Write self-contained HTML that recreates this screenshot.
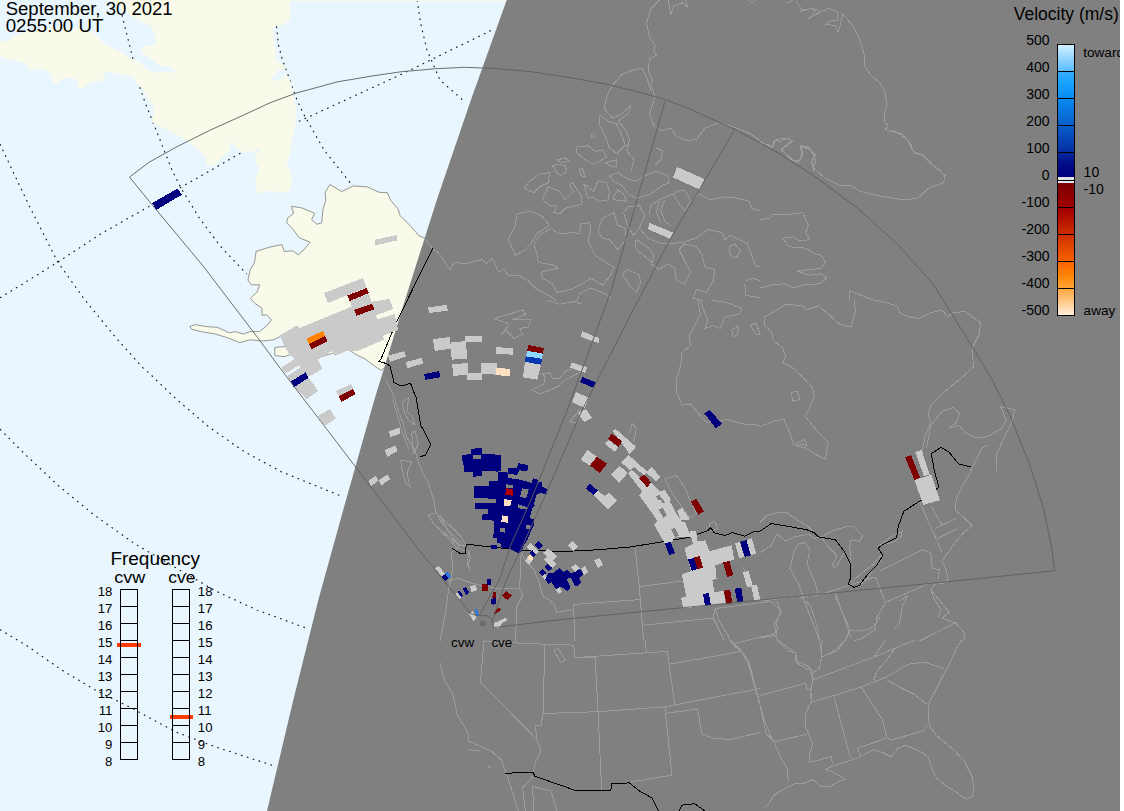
<!DOCTYPE html>
<html><head><meta charset="utf-8"><title>Velocity map</title>
<style>
html,body{margin:0;padding:0;background:#fff;}
body{width:1124px;height:811px;overflow:hidden;font-family:"Liberation Sans",sans-serif;}
svg{display:block;position:absolute;left:0;top:0;}
text{font-family:"Liberation Sans",sans-serif;fill:#000;}
</style></head><body>
<svg width="1124" height="811" viewBox="0 0 1124 811" shape-rendering="auto">
<defs><clipPath id="cm"><rect x="0" y="0" width="1120" height="811"/></clipPath>
<clipPath id="day"><polygon points="506.7,0.0 470.9,100.0 436.8,200.0 405.0,300.0 374.3,400.0 346.0,500.0 318.3,600.0 293.3,700.0 267.0,811.0 0.0,811.0 0.0,0.0"/></clipPath>
<clipPath id="night"><polygon points="506.7,0.0 470.9,100.0 436.8,200.0 405.0,300.0 374.3,400.0 346.0,500.0 318.3,600.0 293.3,700.0 267.0,811.0 1120.0,811.0 1120.0,0.0"/></clipPath>
</defs>
<rect x="0" y="0" width="1124" height="811" fill="#fff"/>
<g clip-path="url(#cm)">
<rect x="0" y="0" width="1120" height="811" fill="#e9f6fe"/>

<g clip-path="url(#day)">
<polyline points="122.0,15.0 127.0,35.0 132.0,55.0 139.0,85.0 145.4,103.4 158.9,137.2 172.4,171.0 180.9,187.9 199.5,218.3 219.7,245.4 246.8,274.1" fill="none" stroke="#111" stroke-width="1.1" stroke-dasharray="1.7 4.5"/>
<polyline points="276.5,26.4 278.5,45.0 282.5,60.0 287.0,72.0 291.5,85.0 297.0,100.0 303.0,113.0 308.9,123.4 324.5,150.7 351.6,184.5" fill="none" stroke="#111" stroke-width="1.1" stroke-dasharray="1.7 4.5"/>
<polyline points="417.0,0.0 421.0,25.0 427.0,50.0 440.0,80.0 465.0,102.0" fill="none" stroke="#111" stroke-width="1.1" stroke-dasharray="1.7 4.5"/>
<polyline points="0.0,297.8 30.4,279.2 57.5,262.3 101.4,233.5 152.1,204.8 180.9,187.2 209.6,171.0 241.7,152.4 297.5,122.0 338.0,103.4 400.0,75.0 492.0,30.0" fill="none" stroke="#111" stroke-width="1.1" stroke-dasharray="1.7 4.5"/>
<polyline points="0.0,144.0 13.5,172.7 30.4,208.2 57.5,261.6 84.5,299.5 115.0,336.6 142.0,367.0 148.7,372.7 175.8,398.7 209.6,427.5 243.4,451.1 280.6,471.4 317.8,486.6 343.1,496.8" fill="none" stroke="#111" stroke-width="1.1" stroke-dasharray="1.7 4.5"/>
<polyline points="0.0,429.2 27.0,456.2 57.5,484.9 94.7,515.4 135.2,544.1 175.8,567.8 216.4,591.4 256.9,610.0 307.6,628.6" fill="none" stroke="#111" stroke-width="1.1" stroke-dasharray="1.7 4.5"/>
<polyline points="0.0,629.6 27.0,645.8 60.9,669.5 94.7,689.7 135.2,710.0 175.8,732.0 216.4,747.2 273.8,765.8" fill="none" stroke="#111" stroke-width="1.1" stroke-dasharray="1.7 4.5"/>
<polygon points="0.0,42.0 9.0,40.0 17.0,35.0 28.0,31.0 43.0,28.0 64.0,28.0 85.0,29.0 93.0,32.0 104.2,44.1 118.5,51.2 131.3,58.4 139.8,62.6 146.9,69.8 154.1,72.6 169.7,71.2 175.4,73.3 171.9,66.9 159.8,65.5 152.6,59.8 145.5,55.5 140.5,49.8 146.9,45.6 155.5,45.6 155.5,35.6 151.2,26.3 138.4,19.9 128.4,14.2 118.5,7.1 109.9,0.0 289.6,0.0 290.5,9.6 289.7,19.2 283.3,25.6 275.3,25.6 272.9,29.6 273.7,40.0 276.0,52.9 276.3,60.0 278.1,61.7 284.1,65.2 283.3,70.4 278.1,69.5 276.3,74.7 271.2,77.3 274.6,80.7 281.5,79.0 285.8,73.8 290.2,80.7 293.6,94.5 296.2,111.8 295.3,125.6 291.9,139.4 290.2,153.2 286.7,164.4 290.2,170.5 291.9,177.4 291.0,184.3 288.4,192.0 278.1,192.9 271.2,190.3 258.2,193.8 255.6,187.7 255.6,175.6 259.1,172.2 259.1,167.0 255.6,161.8 254.8,155.8 260.0,149.7 259.1,148.0 253.9,151.5 243.6,152.3 234.9,148.0 234.1,142.8 230.6,142.8 229.7,149.7 221.1,158.4 214.2,165.3 206.4,165.3 205.6,157.5 200.4,151.5 190.1,142.8 179.7,135.9 167.6,129.9 157.3,124.7 151.2,122.1 154.7,111.8 152.1,104.9 145.2,94.5 140.0,88.5 155.2,109.6 149.5,99.6 142.3,88.3 136.7,84.0 133.8,76.9 121.0,74.7 110.3,71.9 103.2,73.3 105.3,77.6 102.5,81.1 92.5,81.9 88.3,84.0 81.1,89.0 77.6,85.4 78.3,81.1 71.2,77.6 62.6,79.0 56.9,83.3 52.0,81.9 52.7,77.6 48.4,71.2 41.3,68.3 29.2,70.5 27.0,64.1 18.5,61.2 8.5,59.1 0.0,56.2" fill="#fafaea"/>
<polygon points="424.8,238.4 418.9,235.6 410.7,226.2 400.2,215.7 397.8,208.7 390.8,200.5 387.3,192.7 379.1,192.3 367.4,186.9 353.3,185.9 341.6,191.6 329.9,184.5 325.2,192.3 325.7,200.5 322.9,209.8 321.7,222.7 317.0,224.3 311.6,219.7 314.7,213.3 301.8,207.9 291.3,206.3 293.6,213.3 287.8,218.0 286.6,222.7 292.4,228.6 299.5,237.9 310.0,242.1 304.2,249.6 298.3,254.8 292.4,250.8 284.2,251.5 281.9,244.5 269.0,247.3 256.1,251.5 254.5,262.5 250.3,269.6 247.9,280.1 251.4,284.8 259.6,284.8 257.3,291.8 250.3,298.4 255.0,303.5 262.0,308.2 262.0,315.2 266.7,314.8 271.4,319.9 266.7,325.8 259.6,331.6 250.3,331.6 243.2,334.0 235.0,331.6 229.2,332.8 217.5,327.4 205.8,326.5 195.2,324.6 189.8,326.5 191.7,329.3 203.4,332.1 215.1,334.0 226.8,337.5 239.7,342.6 250.3,339.8 262.0,341.0 273.7,339.8 280.7,336.3 288.7,346.3 274.8,347.4 274.8,355.5 284.1,356.7 291.0,354.4 309.5,360.1 332.7,353.2 348.9,349.7 355.8,354.4 365.1,359.0 374.3,365.9 381.2,370.6 384.7,367.1 420.0,330.0 440.0,250.0" fill="#fafaea" stroke="#8a8a8a" stroke-width="0.9"/>
<rect x="110" y="0" width="400" height="1" fill="#fafaea"/>
</g>
<polygon points="506.7,0.0 470.9,100.0 436.8,200.0 405.0,300.0 374.3,400.0 346.0,500.0 318.3,600.0 293.3,700.0 267.0,811.0 1120.0,811.0 1120.0,0.0" fill="#808080"/>
<g clip-path="url(#night)" fill="none" stroke="#9c9c9c" stroke-width="1" stroke-linejoin="round" shape-rendering="crispEdges">
<polyline points="440.0,662.8 444.3,679.9 452.8,694.1 457.1,714.0 468.5,734.0 468.5,741.1 491.2,751.0 501.2,759.6 506.0,773.2 511.2,788.0 518.3,811.1"/>
<polyline points="533.4,776.1 522.6,788.0 525.4,811.1"/>
<polyline points="534.0,811.1 532.5,786.6 551.0,790.9 556.7,811.1"/>
<polyline points="484.1,640.0 480.4,682.1 536.8,739.6 541.1,751.0 535.4,762.4 533.4,772.4"/>
<polyline points="544.8,644.3 543.1,712.6 541.1,725.4 535.4,725.4 536.8,739.6"/>
<polyline points="484.1,641.4 544.8,644.3 573.8,645.1 574.4,657.7 595.2,657.7 598.0,711.7 601.7,790.3"/>
<polyline points="543.1,713.5 598.0,711.7 664.9,706.9 753.2,689.8 760.0,688.4"/>
<polyline points="574.4,657.7 667.2,651.4 674.9,704.9"/>
<polyline points="645.0,640.0 646.4,652.8"/>
<polyline points="669.2,664.2 741.8,651.4"/>
<polyline points="664.9,706.9 672.0,775.2 629.3,782.3"/>
<polyline points="664.9,713.5 697.7,708.9 701.9,734.0 713.3,738.2 730.4,739.6 760.0,732.5"/>
<polyline points="730.4,640.0 741.8,651.4 748.9,661.4 760.0,704.1"/>
<polyline points="553.9,650.0 558.1,648.5 565.3,659.9 561.0,662.8 553.9,650.0"/>
<polyline points="468.5,749.6 479.9,751.0"/>
<polyline points="487.0,765.3 491.2,768.1"/>
<polyline points="962.1,640.0 956.4,648.5 949.3,664.2 942.2,677.0 933.7,694.1 929.4,701.2 928.0,714.0 929.4,725.4 936.5,735.4 953.6,749.6 965.0,762.4 972.1,776.7 974.1,788.0 972.1,796.6 966.4,799.4 956.4,792.3 945.1,785.2 936.5,778.1 932.2,769.5 928.0,756.7 919.4,751.0 905.2,745.3 898.1,748.2 891.0,756.7 882.4,752.5 873.9,749.6 865.3,753.9 856.8,758.1 848.3,761.0 839.7,763.8 831.2,766.7 825.5,769.5 834.0,772.4 845.4,779.5 839.7,780.9 829.8,786.6 821.2,786.6 812.7,779.5 802.7,783.8 794.2,783.8 782.8,789.5 774.2,795.2 768.5,803.7 762.8,809.4"/>
<polyline points="777.1,640.0 788.5,651.4 795.6,652.8 797.0,661.4 807.0,665.6 812.7,671.3 812.7,679.9 810.7,691.2 811.2,701.2 805.6,714.0 805.0,725.4 809.8,736.8 812.7,743.9 809.8,753.9 809.8,762.4 831.2,756.7 832.6,763.8"/>
<polyline points="812.7,679.9 873.9,657.1 915.2,640.0"/>
<polyline points="811.2,702.1 834.0,695.5 861.1,687.0 886.7,677.0 908.0,664.2 925.1,662.2 943.6,668.5"/>
<polyline points="886.7,679.9 902.3,688.4 913.7,694.1 926.5,704.1"/>
<polyline points="834.0,696.9 850.5,758.1"/>
<polyline points="861.1,687.0 882.4,719.7 886.7,736.8 891.0,740.2 924.6,730.5 926.5,725.4"/>
<polyline points="886.7,738.2 857.4,748.2 861.1,756.2"/>
<polyline points="760.0,705.5 766.3,734.0 774.2,741.9 807.0,734.0"/>
<polyline points="774.2,741.9 779.9,756.7 787.0,768.1 788.5,782.3"/>
<polyline points="760.0,695.5 805.6,683.3 807.0,689.8 811.2,689.0"/>
<polyline points="822.1,640.0 821.2,657.1 828.3,654.2 836.9,651.4 845.4,640.0"/>
<polyline points="873.9,657.1 885.3,640.0"/>
<polyline points="895.2,648.5 885.3,661.4 876.7,671.3 873.9,679.9"/>
<polyline points="760.0,522.7 767.1,515.6 777.1,512.7 787.0,512.7 797.0,519.8 807.0,525.5 814.1,532.6"/>
<polyline points="760.0,552.6 771.4,545.4 777.1,534.1 785.6,541.2 794.2,536.9 808.4,534.1 814.1,538.3 821.2,536.9 831.2,531.2 845.4,526.9 854.0,526.9 862.5,535.5 859.6,541.2 851.1,539.8 849.7,548.3 851.1,561.1"/>
<polyline points="802.7,595.3 798.4,583.9 789.9,568.2 794.2,551.1 798.4,544.0 805.6,542.6 809.8,549.7 807.0,564.0 815.5,583.9 818.4,595.3"/>
<polyline points="821.2,536.9 828.3,546.9 836.9,555.4 832.6,565.4 835.4,568.2 842.6,555.4 845.4,552.6"/>
<polyline points="851.1,582.5 862.5,572.5 873.9,564.0 879.6,556.8 883.0,555.4"/>
<polyline points="858.2,586.7 866.8,579.6 873.9,568.2 881.0,561.1"/>
<polyline points="878.1,546.9 891.0,536.9 902.3,531.2 900.9,536.9 892.4,542.6 882.4,544.6"/>
<polyline points="972.1,470.0 965.0,481.4 956.4,498.5 955.0,509.9 965.0,518.4 972.1,525.5 965.0,531.2 956.4,541.2 947.9,552.6 942.2,561.1 946.5,571.1 947.9,579.6 942.2,583.9 936.5,582.5 930.8,589.6 942.2,603.8 949.3,612.3 942.2,618.0 956.4,623.7 965.0,633.7 963.6,641.1"/>
<polyline points="879.6,571.1 922.3,549.7 930.8,552.6 932.2,568.2 939.4,569.6 937.9,579.6"/>
<polyline points="875.3,576.8 885.3,602.4 930.8,582.5"/>
<polyline points="885.3,602.4 876.7,618.0 875.3,629.4 862.5,638.0 854.0,641.1"/>
<polyline points="919.4,501.3 930.8,526.9 942.2,552.6"/>
<polyline points="935.1,528.4 956.4,518.4"/>
<polyline points="937.9,538.3 957.9,528.4"/>
<polyline points="930.8,505.6 942.2,525.5"/>
<polyline points="760.0,601.0 797.0,596.7 818.4,595.3 875.3,576.8"/>
<polyline points="802.7,596.7 819.8,641.1"/>
<polyline points="835.4,592.4 851.1,638.0"/>
<polyline points="777.1,601.0 781.4,612.3 774.2,623.7 777.1,635.1 760.0,638.0"/>
<polyline points="899.5,601.0 908.0,595.3 902.3,606.7 899.5,623.7 893.8,629.4"/>
<polyline points="919.4,641.1 956.4,622.3"/>
<polyline points="930.8,589.6 933.7,598.1 940.8,609.5 937.9,618.0"/>
<polyline points="440.0,515.6 445.7,526.9 452.8,538.3 459.9,545.4 452.8,551.1 451.4,552.6 452.8,569.6 448.5,589.6 445.7,612.3 440.0,641.1"/>
<polyline points="440.0,531.2 448.5,538.3 457.1,548.3 467.0,551.1"/>
<polyline points="448.5,581.0 457.1,578.2 474.2,583.9 494.1,588.1 519.7,588.1 522.6,595.3 516.9,606.7 515.4,641.1"/>
<polyline points="519.7,588.1 521.1,552.6 525.4,561.1 534.0,569.6 539.6,583.9 542.5,595.3 553.9,603.8 556.7,612.3 573.8,609.5 573.8,604.4 640.7,599.5"/>
<polyline points="573.8,604.4 574.4,641.1"/>
<polyline points="635.0,548.3 639.3,586.7 643.6,641.1"/>
<polyline points="639.3,586.7 682.0,581.0"/>
<polyline points="643.6,625.2 713.3,618.0 719.0,629.4 724.7,641.1"/>
<polyline points="713.3,618.0 714.7,609.5"/>
<polyline points="743.2,566.8 748.9,583.9 756.0,595.3 760.0,599.5"/>
<polyline points="467.9,549.7 469.0,555.4 467.0,561.1 468.5,568.2"/>
<polyline points="469.6,551.1 470.2,558.3 468.5,564.0 469.6,569.6"/>
<polyline points="709.0,524.1 714.7,521.2 717.6,528.4 711.9,531.2 709.0,524.1"/>
<polyline points="664.9,478.5 676.3,475.7 684.8,487.1 690.5,501.3 696.2,512.7 690.5,518.4 682.0,507.0 673.5,495.6 664.9,478.5"/>
<polyline points="854.0,300.0 855.4,311.4 851.1,327.0 839.7,324.2 828.3,314.2 818.4,305.7 805.6,310.0 802.7,305.7 785.6,304.3 777.1,310.0 764.3,317.1 764.3,325.6 771.4,331.3 772.8,339.9 782.8,348.4 785.6,356.9 782.8,362.6 791.3,366.9 802.7,376.9 812.7,388.3 814.1,396.8 805.6,416.7 816.9,431.0 828.3,442.3 825.5,459.4 816.9,455.2 805.6,448.0 794.2,445.2 789.9,433.8 784.2,419.6 774.2,421.0 760.0,426.7"/>
<polyline points="791.3,392.5 797.0,391.1 799.9,399.6 792.7,401.1 791.3,392.5"/>
<polyline points="795.6,443.8 804.1,439.5 807.0,445.2 795.6,443.8"/>
<polyline points="875.3,300.0 896.7,305.7 900.9,314.2 910.9,317.1 919.4,318.5 930.8,312.8 942.2,310.0 947.9,317.1 953.6,312.8 965.0,311.4 980.6,322.8 979.2,334.2 972.1,348.4 973.5,366.9 959.3,379.7 945.1,391.1 930.8,405.3 928.0,413.9 930.8,422.4 925.1,436.7 922.3,450.9"/>
<polyline points="926.5,448.0 930.8,425.3 942.2,411.0 953.6,407.6 959.3,413.9 956.4,422.4 949.3,428.1 959.3,425.3 965.0,432.4 976.4,438.1 987.8,436.7 1002.0,428.1 1006.3,419.6 1000.6,406.8 1014.8,409.6 1012.0,422.4 1002.0,442.3 996.3,455.2 996.3,471.1"/>
<polyline points="987.8,445.2 982.1,448.0 973.5,465.1 970.7,471.1"/>
<polyline points="494.1,318.5 522.6,310.0 525.4,314.2 512.6,319.9 531.1,319.9 528.3,327.0 519.7,328.5 522.6,334.2 514.0,338.4 505.5,329.9 501.2,334.2 509.8,324.2 494.1,318.5"/>
<polyline points="531.1,389.7 543.9,384.0 545.3,376.9 542.5,374.0 549.6,372.6 552.5,378.3 559.6,378.3 565.3,371.2 573.8,368.3 582.3,371.2 573.8,375.4 565.3,379.7 559.6,385.4 551.0,389.7 539.6,394.0 531.1,389.7"/>
<polyline points="569.5,422.4 579.5,409.6 582.3,413.9 576.7,422.4 569.5,422.4"/>
<polyline points="697.7,300.0 700.5,314.2 693.4,328.5 689.1,335.6 690.5,345.6 682.0,352.7 680.6,365.5 676.3,379.7 676.3,391.1 682.0,405.3 690.5,403.9 703.3,419.6 707.6,422.4 727.5,419.6 741.8,423.8 760.0,425.3"/>
<polyline points="546.8,300.0 559.6,304.3 573.8,301.4 582.3,304.3"/>
<polyline points="700.5,301.4 707.6,319.9 704.8,328.5 713.3,325.6 720.4,328.5 724.7,317.1 738.9,314.2 741.8,308.5 727.5,302.8 710.5,300.0"/>
<polyline points="731.8,329.9 738.9,325.6 737.5,334.2 733.2,337.0 731.8,329.9"/>
<polyline points="750.3,325.6 756.0,322.8 760.0,334.2 756.0,334.2 750.3,325.6"/>
<polyline points="629.3,433.8 632.2,423.8 636.4,428.1 633.6,442.3"/>
<polyline points="516.9,214.0 529.7,211.1 541.1,215.4 549.6,225.4 536.8,233.9 531.1,243.9 525.4,249.6 515.4,255.3 508.3,239.6 515.4,225.4 516.9,214.0"/>
<polyline points="534.0,243.9 539.6,235.3 551.0,228.2 558.1,233.9 573.8,232.5 579.5,233.9 580.9,224.0 589.5,222.5 590.9,229.6 588.0,241.0 595.2,255.3 608.0,263.8 613.7,266.7 610.8,275.2 602.3,285.2 590.9,278.0 582.3,283.7 571.0,289.4 556.7,292.3 552.5,283.7 542.5,278.0 541.1,272.3 558.1,268.1 553.9,265.2 538.2,262.4 536.8,253.8 534.0,243.9"/>
<polyline points="440.0,255.3 450.0,269.5 454.2,262.4 464.2,263.8 482.7,259.5 485.6,263.8 492.7,258.1 498.4,272.3 504.1,269.5 508.3,275.2 518.3,275.2 528.3,280.9 536.8,289.4 551.0,296.5 556.7,301.1"/>
<polyline points="576.7,301.1 579.5,293.7 590.9,288.0 605.1,293.7 610.8,298.0"/>
<polyline points="524.0,188.4 529.7,181.2 539.6,174.1 549.6,172.7 548.2,182.7 539.6,186.9 534.0,192.6 524.0,188.4"/>
<polyline points="542.5,199.8 548.2,186.9 559.6,191.2 565.3,199.8 573.8,191.2 569.5,185.5 572.4,182.7 580.9,195.5 582.3,204.0 565.3,208.3 559.6,214.0 553.9,212.6 556.7,205.4 549.6,205.4 542.5,199.8"/>
<polyline points="552.5,165.6 558.1,164.2 565.3,165.6 566.7,171.3 561.0,175.6 556.7,172.7 552.5,165.6"/>
<polyline points="556.7,159.9 565.3,157.9 569.5,161.3 561.0,162.7 556.7,159.9"/>
<polyline points="576.7,147.1 588.0,145.7 595.2,151.4 602.3,149.9 606.5,157.0 599.4,161.3 593.7,164.2 585.2,159.9 576.7,152.8 576.7,147.1"/>
<polyline points="579.5,168.4 582.3,168.4 585.2,177.0 580.9,175.6 579.5,168.4"/>
<polyline points="605.1,162.7 616.5,159.9 616.5,167.0 609.4,165.6 605.1,162.7"/>
<polyline points="583.8,184.1 593.7,191.2 598.0,181.2 606.5,182.7 609.4,191.2 608.0,199.8 599.4,201.2 592.3,196.9 588.0,198.3 583.8,184.1"/>
<polyline points="613.7,196.9 617.9,189.8 623.6,194.1 626.5,201.2 613.7,199.8 613.7,196.9"/>
<polyline points="609.4,175.6 617.9,172.7 626.5,178.4 636.4,181.2 645.0,175.6 656.4,171.3 667.8,175.6 669.2,182.7 662.1,185.5 650.7,194.1 636.4,198.3 627.9,194.1 622.2,185.5 613.7,181.2 609.4,175.6"/>
<polyline points="598.0,231.1 602.3,218.3 613.7,212.6 617.9,225.4 625.1,228.2 626.5,239.6 617.9,249.6 609.4,239.6 602.3,238.2 598.0,231.1"/>
<polyline points="623.6,212.6 627.9,206.9 639.3,205.4 645.0,215.4 639.3,228.2 633.6,235.3 627.9,226.8 623.6,212.6"/>
<polyline points="635.0,242.5 636.4,239.6 649.3,248.1 653.5,255.3 652.1,262.4 643.6,255.3 636.4,249.6 635.0,242.5"/>
<polyline points="622.2,273.8 627.9,269.5 639.3,275.2 640.7,282.3 636.4,292.3 629.3,285.2 622.2,273.8"/>
<polyline points="649.3,215.4 650.7,205.4 662.1,198.3 673.5,194.1 676.3,199.8 684.8,211.1 690.5,201.2 684.8,189.8 677.7,191.2 673.5,194.1"/>
<polyline points="664.9,199.8 660.6,209.7 664.9,221.1 670.6,225.4"/>
<polyline points="659.2,201.2 656.4,212.6 660.6,222.5"/>
<polyline points="692.0,201.2 699.1,194.1 710.5,199.8 724.7,196.9 738.9,198.3 748.9,201.2 751.7,208.3 760.0,211.1"/>
<polyline points="650.7,263.8 659.2,269.5 667.8,263.8 674.9,268.1 676.3,280.9 684.8,283.7 690.5,272.3 684.8,261.0 679.1,249.6 684.8,243.9 696.2,246.7 701.9,253.8 704.8,266.7 714.7,269.5 713.3,280.9 706.2,292.3 696.2,289.4 693.4,298.0 703.3,301.1"/>
<polyline points="639.3,228.2 647.8,238.2 662.1,243.9 682.0,242.5 696.2,238.2 707.6,229.6 721.9,232.5 724.7,239.6 730.4,235.3 747.5,243.9 751.7,255.3 756.0,266.7 760.0,266.7"/>
<polyline points="729.0,246.7 734.7,243.9 740.4,251.0 736.1,258.1 730.4,255.3 729.0,246.7"/>
<polyline points="746.0,280.9 753.2,278.0 760.0,280.9"/>
<polyline points="744.6,283.7 746.0,295.1 760.0,298.0"/>
<polyline points="592.3,132.8 595.2,137.1 590.9,137.1 592.3,132.8"/>
<polyline points="891.0,130.0 902.3,134.3 910.9,144.2 913.7,152.8 923.7,155.6 933.7,165.6 945.1,175.6 943.6,182.7 928.0,188.4 918.0,198.3 902.3,199.8 876.7,195.5 859.6,191.2 851.1,185.5 839.7,185.5 825.5,178.4 814.1,168.4 811.2,161.3 815.5,154.2 808.4,147.1 801.3,145.7 802.7,154.2 799.9,159.9 794.2,161.3 781.4,149.9 788.5,142.8 792.7,141.4 787.0,138.5 779.9,141.4 774.2,140.0 772.8,145.7 760.0,142.8"/>
<polyline points="760.0,219.7 770.0,218.3 772.8,214.0 791.3,214.0 802.7,212.6 808.4,225.4 805.6,232.5 809.8,239.6 799.9,241.0 792.7,236.8 782.8,238.2 788.5,246.7 805.6,248.1 814.1,253.8 821.2,255.3 825.5,262.4 821.2,268.1 811.2,269.5 797.0,270.9 808.4,275.2 821.2,273.8 826.9,278.0 819.8,283.7 802.7,285.2 792.7,288.0 784.2,283.7 771.4,285.2 760.0,288.0"/>
<polyline points="849.7,301.1 849.7,290.9 876.7,301.1"/>
<polyline points="659.4,0.0 650.9,8.5 646.6,22.8 649.5,37.0 655.2,45.6 653.7,51.2 656.6,55.5 649.5,58.4 648.0,71.2 652.3,79.7 650.9,85.4 655.2,96.8 649.5,113.9 653.7,125.3 662.3,131.0 670.8,128.1 676.5,136.7 687.9,140.9 696.4,139.5 705.0,128.1 719.2,122.4 736.3,128.1 750.5,133.8 761.9,142.3 771.9,148.0 776.2,139.5 787.5,138.1 793.2,140.9 781.9,149.5 790.4,159.4 798.9,162.3 801.8,153.7 800.4,146.6 810.3,149.5 816.0,159.4 813.2,168.0"/>
<polyline points="650.9,91.1 646.6,76.9 642.3,68.3 633.8,69.8 622.4,74.0 612.5,85.4 606.8,96.8 603.9,108.2 612.5,118.1 622.4,113.9 631.0,105.3 628.1,113.9 618.1,121.0 625.3,129.5 629.5,139.5 626.7,150.9 633.8,159.4 631.0,171.1"/>
<polyline points="599.6,115.3 608.2,121.0 616.7,123.8 622.4,136.7 625.3,145.2 616.7,153.7 609.6,148.0 605.3,136.7 599.6,125.3 599.6,115.3"/>
<polyline points="668.0,0.0 670.8,14.2 673.7,5.7 682.2,2.8 687.9,7.1 685.1,0.0"/>
<polyline points="747.7,0.0 752.0,2.8 756.2,0.0"/>
<polyline points="787.5,2.8 793.2,0.0"/>
<polyline points="796.1,1.4 801.8,10.0 813.2,8.5 820.0,11.4 808.9,18.5"/>
<polyline points="655.2,165.1 660.9,159.4 662.3,150.9 656.6,148.0"/>
<polyline points="800.0,11.4 811.4,8.5 815.7,11.4 808.5,18.5 821.4,11.4 828.5,8.5 837.0,11.4 838.4,19.9 828.5,21.4 825.6,24.2 835.6,25.6 838.4,32.7 842.7,14.2 852.7,25.6 859.8,39.9 864.1,54.1 864.1,65.5 871.2,75.4 879.7,82.6 885.4,94.0 886.8,105.3 884.0,113.9 884.0,122.4 888.3,125.3 885.4,129.5 899.6,133.8 908.2,140.9 912.5,150.9 922.4,155.2 931.0,163.7 940.9,171.1"/>
<polyline points="800.0,145.2 808.5,148.0 815.7,155.2 811.4,162.3 814.2,171.1"/>
<polyline points="386.1,380.0 392.5,392.8 398.9,412.1 403.7,424.9 406.9,437.7 415.0,450.5 418.2,461.8 423.0,473.0 429.4,485.8 434.2,501.8 435.8,511.5 440.6,521.1 450.2,532.3 458.2,540.3 464.7,546.7"/>
<polyline points="402.1,402.4 408.6,397.6 406.9,412.1 411.8,415.3 415.0,424.9 410.2,421.7 405.3,415.3 402.1,402.4"/>
<polyline points="411.8,432.9 415.0,431.3 418.2,444.1 413.4,453.7 411.8,432.9"/>
<polyline points="400.5,460.2 411.8,461.8 406.9,473.0 410.2,487.4 405.3,482.6 402.1,469.8 400.5,460.2"/>
<polyline points="427.8,514.7 435.8,513.1 448.6,524.3 461.5,537.1 466.3,546.7 458.2,545.1 445.4,533.9 434.2,524.3 427.8,514.7"/>
<polyline points="392.5,399.2 397.3,415.3 402.1,431.3 408.6,448.9"/>
<polyline points="424.0,237.4 429.4,244.5 432.9,248.9 438.3,252.5 440.0,255.3"/>
<polyline points="715.2,608.5 719.4,621.3 728.0,635.5 732.2,644.1 742.2,652.6 747.9,662.6 756.4,692.5 765.0,722.3 773.5,742.3"/>
<polyline points="732.2,644.1 773.5,634.1"/>
<polyline points="715.2,608.5 770.7,601.4 780.6,609.9 776.4,622.7 777.8,629.8 773.5,634.1 779.2,641.2 794.9,652.6 796.3,662.6 810.5,671.1 813.4,679.6 810.5,689.6 812.0,699.6"/>
<polyline points="799.1,595.7 810.5,605.6 817.7,628.4 821.9,656.9 819.1,668.3 813.4,672.5"/>
<polyline points="821.9,656.9 833.3,651.2 844.7,641.2 850.4,629.8 861.8,631.2 873.2,627.0 880.0,617.0"/>
<polyline points="834.7,595.7 850.4,629.8"/>
</g>
<g fill="none" stroke="#000" stroke-width="1" stroke-linejoin="round" shape-rendering="crispEdges">
<polyline points="452.0,548.3 459.9,553.3 465.3,553.3 466.3,544.4 472.7,544.9 489.5,546.9 509.2,548.8 523.0,550.3 560.0,551.3 569.3,551.2 598.9,549.7 630.0,547.0 640.0,545.4 662.7,541.8 689.6,537.2 708.1,530.5 710.9,527.7 713.8,532.6 725.1,535.5 732.2,532.6 745.0,536.2 753.5,531.9 760.0,531.2 771.4,523.5 788.5,526.4 807.0,529.8 814.1,532.6 818.4,536.9 835.4,539.8 844.0,551.1 850.5,564.0 850.5,578.2 848.3,583.9 854.0,587.3 859.6,585.3 866.8,575.3 876.7,565.4 883.0,555.4 878.1,548.3 882.4,544.6 896.7,537.8 898.1,526.9 903.8,511.3 919.4,501.3 930.8,494.2 938.8,487.1 936.5,478.5 934.2,470.0 931.3,453.7 941.0,447.3 949.0,452.1 958.6,464.0 971.4,467.2"/>
<polyline points="433.1,248.1 412.2,290.0 397.4,320.5 391.8,333.0 381.2,358.5 379.0,361.4 386.5,363.6 390.2,366.1 393.9,382.3 401.4,386.0 410.5,383.2 413.0,390.0 416.0,397.2 420.6,424.9 425.4,433.6 430.9,444.4 425.4,455.3 420.0,456.6"/>
<polyline points="505.5,773.2 533.4,772.4 534.5,776.1 576.7,790.9 610.8,790.3 611.7,783.8 629.3,782.9 639.3,790.9 652.1,798.0 658.6,811.0"/>
<polyline points="679.1,811.0 682.0,805.1 694.8,803.7 704.8,811.0"/>
</g>
<circle cx="482.9" cy="623.6" r="3" fill="#6b6b6b"/>
<polygon points="152.1,203.1 177.5,188.6 181.9,194.7 156.2,209.9" fill="#00007f" shape-rendering="crispEdges"/>
<polygon points="374.4,239.8 396.7,235.1 397.4,240.3 375.6,245.4" fill="#cacaca" shape-rendering="crispEdges"/>
<polygon points="324.2,293.0 362.8,278.1 366.5,287.4 327.9,303.0" fill="#cacaca" shape-rendering="crispEdges"/>
<polygon points="349.7,301.1 369.0,293.7 371.5,301.8 352.8,309.2" fill="#cacaca" shape-rendering="crispEdges"/>
<polygon points="280.0,335.4 296.8,325.4 299.9,327.9 352.8,306.1 371.5,301.8 389.6,299.0 393.3,309.2 375.9,315.1 377.4,319.2 394.5,314.2 398.3,329.8 382.7,336.0 384.0,339.7 355.9,351.6 349.7,349.7 334.8,355.9 331.7,351.0 318.0,359.7 322.3,368.6 308.0,377.3 305.5,372.3 290.6,381.7 287.4,376.1 300.5,367.4 299.3,365.1 285.6,373.6 281.2,368.0 294.3,359.3 286.2,349.9" fill="#cacaca" shape-rendering="crispEdges"/>
<polygon points="347.2,295.5 366.5,288.1 368.8,293.0 349.7,301.1" fill="#7f0000" shape-rendering="crispEdges"/>
<polygon points="354.1,309.9 372.1,303.6 374.4,309.2 356.6,315.8" fill="#7f0000" shape-rendering="crispEdges"/>
<polygon points="306.1,338.7 322.9,331.0 325.1,336.0 308.9,343.9" fill="#ff8200" shape-rendering="crispEdges"/>
<polygon points="308.9,343.9 325.1,336.0 327.3,341.2 311.7,349.3" fill="#7f0000" shape-rendering="crispEdges"/>
<polygon points="290.6,381.7 305.5,372.3 308.4,378.0 293.7,387.3" fill="#00007f" shape-rendering="crispEdges"/>
<polygon points="293.7,387.3 308.4,378.0 309.9,379.2 318.0,391.0 306.7,399.1 295.5,388.5" fill="#cacaca" shape-rendering="crispEdges"/>
<polygon points="336.0,391.0 351.0,384.2 353.2,388.8 338.5,396.0" fill="#cacaca" shape-rendering="crispEdges"/>
<polygon points="338.5,396.0 353.2,388.8 355.3,394.1 341.6,402.0" fill="#7f0000" shape-rendering="crispEdges"/>
<polygon points="318.0,415.9 329.8,409.1 336.0,418.4 324.8,425.9" fill="#cacaca" shape-rendering="crispEdges"/>
<polygon points="388.3,355.5 403.9,351.2 405.8,356.8 390.2,361.1" fill="#cacaca" shape-rendering="crispEdges"/>
<polygon points="428.0,307.4 446.6,304.9 447.9,310.6 429.2,313.0" fill="#cacaca" shape-rendering="crispEdges"/>
<polygon points="432.9,339.2 449.7,337.1 451.0,348.5 434.8,351.0" fill="#cacaca" shape-rendering="crispEdges"/>
<polygon points="451.0,342.3 465.9,341.1 467.2,358.5 451.6,359.7" fill="#cacaca" shape-rendering="crispEdges"/>
<polygon points="464.7,336.3 482.1,335.8 482.4,342.1 465.3,342.3" fill="#cacaca" shape-rendering="crispEdges"/>
<polygon points="495.8,347.3 512.6,347.9 512.6,354.8 496.5,353.5" fill="#cacaca" shape-rendering="crispEdges"/>
<polygon points="452.0,364.1 467.8,363.2 468.4,374.7 453.5,375.9" fill="#cacaca" shape-rendering="crispEdges"/>
<polygon points="467.2,373.4 482.1,372.8 482.4,379.7 467.4,379.9" fill="#cacaca" shape-rendering="crispEdges"/>
<polygon points="481.1,363.5 496.5,363.2 496.5,374.7 481.5,373.7" fill="#cacaca" shape-rendering="crispEdges"/>
<polygon points="388.1,356.0 404.3,351.0 406.2,356.6 390.0,362.0" fill="#cacaca" shape-rendering="crispEdges"/>
<polygon points="405.9,362.2 421.7,357.9 423.3,363.5 407.4,368.2" fill="#cacaca" shape-rendering="crispEdges"/>
<polygon points="495.8,368.2 510.2,368.7 510.2,375.9 496.1,375.3" fill="#ffe0c2" shape-rendering="crispEdges"/>
<polygon points="424.2,374.1 439.2,371.0 440.4,377.2 425.1,379.9" fill="#00007f" shape-rendering="crispEdges"/>
<polygon points="528.4,345.1 543.8,348.0 543.0,353.6 527.2,350.9" fill="#7f0000" shape-rendering="crispEdges"/>
<polygon points="527.2,350.9 543.0,353.6 542.1,358.8 525.9,356.3" fill="#8cd8ff" shape-rendering="crispEdges"/>
<polygon points="525.9,356.3 542.1,358.8 541.1,364.8 524.9,361.7" fill="#0838b0" shape-rendering="crispEdges"/>
<polygon points="524.9,361.7 541.1,364.8 537.4,379.7 523.0,377.3" fill="#cacaca" shape-rendering="crispEdges"/>
<polygon points="582.2,331.2 594.0,336.2 592.2,341.1 581.0,336.8" fill="#cacaca" shape-rendering="crispEdges"/>
<polygon points="594.7,336.4 599.6,338.0 598.4,343.0 593.2,341.1" fill="#cacaca" shape-rendering="crispEdges"/>
<polygon points="571.6,362.3 582.8,366.0 581.0,371.7 570.0,367.5" fill="#cacaca" shape-rendering="crispEdges"/>
<polygon points="583.7,366.0 586.9,367.3 585.3,372.9 582.2,371.7" fill="#cacaca" shape-rendering="crispEdges"/>
<polygon points="582.2,377.0 595.9,382.2 593.4,387.8 580.0,382.2" fill="#00007f" shape-rendering="crispEdges"/>
<polygon points="576.0,392.2 589.1,397.8 584.7,407.8 572.0,402.2" fill="#cacaca" shape-rendering="crispEdges"/>
<polygon points="677.1,167.0 704.7,179.1 699.5,189.4 673.0,177.4" fill="#cacaca" shape-rendering="crispEdges"/>
<polygon points="649.5,222.9 673.0,232.6 670.2,238.8 647.8,229.1" fill="#cacaca" shape-rendering="crispEdges"/>
<polygon points="704.5,413.5 709.5,410.0 722.0,423.5 716.0,428.5" fill="#00007f" shape-rendering="crispEdges"/>
<polygon points="578.0,413.0 586.0,409.0 592.0,418.0 584.0,422.0" fill="#cacaca" shape-rendering="crispEdges"/>
<polygon points="388.5,431.4 400.0,427.7 400.0,433.9 390.4,437.0" fill="#cacaca" shape-rendering="crispEdges"/>
<polygon points="384.8,449.9 395.3,445.6 397.8,451.2 387.3,456.7" fill="#cacaca" shape-rendering="crispEdges"/>
<polygon points="368.2,480.8 375.6,475.8 378.6,480.1 371.2,486.3" fill="#cacaca" shape-rendering="crispEdges"/>
<polygon points="378.6,480.1 387.3,474.6 390.4,478.9 381.1,485.7" fill="#cacaca" shape-rendering="crispEdges"/>
<polygon points="471.2,448.9 482.1,447.9 482.1,453.8 500.8,454.8 500.8,470.6 497.4,471.6 482.1,470.6 482.1,475.5 473.2,477.0 473.2,471.6 463.8,472.1 463.3,460.7 461.8,460.7 461.8,454.8 471.2,454.3" fill="#00007f" shape-rendering="crispEdges"/>
<polygon points="473.2,455.3 481.1,454.8 481.1,458.7 473.2,458.9" fill="#808080" shape-rendering="crispEdges"/>
<polygon points="507.7,467.6 517.1,468.1 518.1,463.2 527.9,465.2 527.4,471.6 519.1,470.1 517.1,475.0 508.2,473.5" fill="#00007f" shape-rendering="crispEdges"/>
<polygon points="497.8,471.6 507.7,472.6 508.2,478.0 519.1,479.5 531.9,482.9 532.9,478.0 538.3,480.0 537.3,483.4 541.8,481.4 541.8,486.4 547.7,489.3 547.2,493.8 539.3,493.3 535.8,495.2 534.4,507.1 534.8,506.9 532.4,507.9 530.9,512.3 529.9,518.3 533.9,519.2 533.9,524.7 529.9,533.5 527.9,539.0 525.0,543.4 523.0,547.4 521.0,552.3 518.1,552.8 511.2,549.8 509.2,548.8 501.3,547.4 501.3,543.9 497.4,542.9 497.4,538.0 493.4,537.5 493.9,520.7 482.1,519.7 482.6,514.0 488.0,514.0 488.0,509.1 475.2,509.1 475.2,503.2 495.9,502.6 495.9,498.7 474.2,498.2 474.2,486.4 489.0,485.9 489.0,480.9 497.8,480.9" fill="#00007f" shape-rendering="crispEdges"/>
<polygon points="506.2,484.4 512.6,484.9 512.6,488.3 506.2,487.8" fill="#808080" shape-rendering="crispEdges"/>
<polygon points="506.2,488.3 513.1,489.3 512.6,495.7 505.2,494.8" fill="#b00000" shape-rendering="crispEdges"/>
<polygon points="504.3,499.2 511.7,500.2 510.2,506.6 504.1,505.6" fill="#ffe0c2" shape-rendering="crispEdges"/>
<polygon points="522.0,488.3 528.9,489.3 526.0,498.2 520.2,496.7" fill="#808080" shape-rendering="crispEdges"/>
<polygon points="518.1,504.1 527.0,507.1 526.5,509.6 518.1,508.1" fill="#808080" shape-rendering="crispEdges"/>
<polygon points="536.8,494.1 538.8,493.8 535.8,505.1 533.9,504.6" fill="#808080" shape-rendering="crispEdges"/>
<polygon points="502.3,515.3 507.7,516.3 507.7,522.7 501.3,521.7" fill="#ffe0c2" shape-rendering="crispEdges"/>
<polygon points="500.3,528.1 504.8,528.1 504.8,532.6 500.3,532.1" fill="#808080" shape-rendering="crispEdges"/>
<polygon points="526.5,524.7 530.9,525.7 529.9,529.6 526.0,528.6" fill="#808080" shape-rendering="crispEdges"/>
<polygon points="490.9,544.9 496.9,544.9 497.4,548.8 491.4,549.3" fill="#00007f" shape-rendering="crispEdges"/>
<polygon points="526.4,547.3 530.4,542.8 539.2,551.2 535.8,554.2" fill="#cacaca" shape-rendering="crispEdges"/>
<polygon points="534.3,544.8 538.3,540.9 543.2,545.3 539.2,549.7" fill="#00007f" shape-rendering="crispEdges"/>
<polygon points="529.4,553.2 532.3,550.2 535.8,554.2 533.3,557.1" fill="#00007f" shape-rendering="crispEdges"/>
<polygon points="526.9,557.6 529.9,554.2 533.8,558.1 530.9,561.6" fill="#ffe0c2" shape-rendering="crispEdges"/>
<polygon points="524.9,560.6 527.9,558.1 531.8,561.6 528.9,564.5" fill="#cacaca" shape-rendering="crispEdges"/>
<polygon points="543.2,552.7 548.1,548.3 557.0,556.6 553.1,560.6 556.0,564.0 552.6,568.0 543.7,559.6 547.1,556.6" fill="#cacaca" shape-rendering="crispEdges"/>
<polygon points="544.2,567.0 547.6,564.0 552.1,568.0 548.6,571.4" fill="#00007f" shape-rendering="crispEdges"/>
<polygon points="539.2,572.4 542.7,569.0 546.1,572.9 543.2,576.4" fill="#00007f" shape-rendering="crispEdges"/>
<polygon points="542.2,576.4 544.7,573.9 547.1,577.4 544.7,579.8" fill="#cacaca" shape-rendering="crispEdges"/>
<polygon points="545.2,579.3 548.6,572.4 552.6,573.4 559.5,568.0 563.4,571.9 567.4,570.0 571.3,573.4 580.2,569.0 583.1,574.4 579.2,578.3 581.2,582.8 577.7,586.2 574.3,585.2 570.8,577.4 566.4,579.3 570.8,587.2 567.4,590.7 563.4,588.2 561.4,587.2 556.0,588.7 551.6,582.3 548.1,583.8" fill="#00007f" shape-rendering="crispEdges"/>
<polygon points="570.8,567.5 575.7,564.0 579.7,568.5 575.2,571.9" fill="#cacaca" shape-rendering="crispEdges"/>
<polygon points="581.2,568.5 585.1,566.0 588.1,572.4 584.1,574.9" fill="#cacaca" shape-rendering="crispEdges"/>
<polygon points="556.0,589.7 559.5,587.2 561.9,591.7 558.5,594.1" fill="#cacaca" shape-rendering="crispEdges"/>
<polygon points="567.8,545.8 572.3,540.9 578.2,546.8 573.3,551.2" fill="#cacaca" shape-rendering="crispEdges"/>
<polygon points="594.0,560.6 599.4,558.1 602.9,564.5 598.4,568.0" fill="#cacaca" shape-rendering="crispEdges"/>
<polygon points="435.1,568.3 438.8,566.0 445.3,573.9 441.6,576.2" fill="#cacaca" shape-rendering="crispEdges"/>
<polygon points="445.3,573.4 448.0,571.8 451.1,576.7 448.5,578.5" fill="#1e78e6" shape-rendering="crispEdges"/>
<polygon points="441.6,577.1 445.3,573.9 448.5,578.5 445.3,581.1" fill="#00007f" shape-rendering="crispEdges"/>
<polygon points="455.4,594.2 457.3,592.4 461.0,597.0 458.9,599.3" fill="#cacaca" shape-rendering="crispEdges"/>
<polygon points="457.8,591.9 459.8,590.7 463.1,595.6 461.3,597.5" fill="#00007f" shape-rendering="crispEdges"/>
<polygon points="462.8,588.7 466.1,586.8 469.0,592.4 466.3,595.0" fill="#00007f" shape-rendering="crispEdges"/>
<polygon points="470.0,586.4 475.3,585.0 477.2,590.1 471.6,591.9" fill="#cacaca" shape-rendering="crispEdges"/>
<polygon points="482.0,584.2 488.1,584.2 488.1,591.0 482.0,591.0" fill="#7f0000" shape-rendering="crispEdges"/>
<polygon points="487.2,579.4 490.9,579.0 491.1,585.0 487.5,584.8" fill="#00007f" shape-rendering="crispEdges"/>
<polygon points="492.7,591.5 495.7,591.9 495.9,598.4 492.4,598.4" fill="#7f0000" shape-rendering="crispEdges"/>
<polygon points="491.1,598.9 495.9,598.1 495.9,603.5 493.8,604.9 491.2,603.5" fill="#00007f" shape-rendering="crispEdges"/>
<polygon points="502.0,595.6 506.3,591.0 512.1,595.6 507.2,600.0" fill="#7f0000" shape-rendering="crispEdges"/>
<polygon points="493.8,613.7 495.2,610.4 498.5,607.9 501.0,609.0 498.5,611.8 494.8,614.1" fill="#7f0000" shape-rendering="crispEdges"/>
<polygon points="469.3,614.6 472.6,610.9 476.3,617.8 473.5,621.1" fill="#cacaca" shape-rendering="crispEdges"/>
<polygon points="474.9,609.5 477.0,609.0 479.0,615.5 476.7,616.2" fill="#1e78e6" shape-rendering="crispEdges"/>
<polygon points="493.8,622.9 500.3,620.6 505.4,617.8 507.2,620.1 501.2,623.8 501.2,625.7 498.5,628.0 494.3,628.0" fill="#cacaca" shape-rendering="crispEdges"/>
<polygon points="612.3,430.6 616.1,429.3 636.0,446.8 629.8,454.3" fill="#cacaca" shape-rendering="crispEdges"/>
<polygon points="604.9,443.7 608.6,439.9 618.0,447.4 616.1,451.1 613.6,451.1" fill="#cacaca" shape-rendering="crispEdges"/>
<polygon points="608.0,438.7 611.7,433.7 622.1,441.2 618.6,446.8" fill="#7f0000" shape-rendering="crispEdges"/>
<polygon points="580.6,459.9 587.4,449.9 596.8,456.7 589.9,465.5" fill="#cacaca" shape-rendering="crispEdges"/>
<polygon points="589.9,465.5 596.8,456.7 607.1,463.6 599.6,472.9" fill="#7f0000" shape-rendering="crispEdges"/>
<polygon points="611.1,474.2 619.2,465.8 627.9,472.9 619.2,482.9" fill="#cacaca" shape-rendering="crispEdges"/>
<polygon points="621.1,462.3 628.5,454.9 647.2,471.7 651.6,467.1 660.3,476.7 655.9,481.3 646.6,472.9 644.1,475.4 634.1,467.1 629.8,470.4" fill="#cacaca" shape-rendering="crispEdges"/>
<polygon points="627.9,473.3 631.7,469.8 639.7,477.0 639.1,478.8 647.2,487.3 651.0,482.3 659.7,491.6 664.7,489.7 670.9,499.7 668.4,503.4 675.9,520.0 657.2,520.0 639.1,495.4 642.2,491.6" fill="#cacaca" shape-rendering="crispEdges"/>
<polygon points="639.1,478.5 644.1,474.2 651.0,482.3 647.2,487.3" fill="#7f0000" shape-rendering="crispEdges"/>
<polygon points="655.9,496.6 659.1,494.7 664.7,502.2 662.2,504.7" fill="#808080" shape-rendering="crispEdges"/>
<polygon points="659.1,509.7 662.2,507.8 667.1,515.9 664.7,517.8" fill="#808080" shape-rendering="crispEdges"/>
<polygon points="677.1,510.9 682.1,507.8 689.6,520.0 680.8,520.0" fill="#cacaca" shape-rendering="crispEdges"/>
<polygon points="690.8,501.6 696.4,498.7 703.9,511.5 698.3,514.7" fill="#7f0000" shape-rendering="crispEdges"/>
<polygon points="585.9,488.3 589.9,483.8 598.0,490.7 593.7,495.4" fill="#00007f" shape-rendering="crispEdges"/>
<polygon points="593.7,495.4 598.0,490.7 604.3,496.0 609.2,492.9 617.1,500.3 608.0,509.1" fill="#cacaca" shape-rendering="crispEdges"/>
<polygon points="642.8,500.0 669.1,500.0 674.8,510.6 677.6,515.6 682.6,522.0 685.4,522.7 689.6,533.3 690.4,530.5 696.0,530.5 697.4,541.1 705.2,540.4 709.5,551.1 731.5,545.4 734.3,559.6 715.2,565.2 716.6,578.7 712.3,580.1 714.5,592.2 723.7,590.8 725.8,603.5 683.3,608.5 681.1,597.9 686.1,596.5 681.8,574.5 691.1,570.9 688.9,562.4 686.8,556.7 684.7,548.2 693.2,544.0 691.1,536.9 674.8,537.6 671.2,542.6 664.8,543.3 654.2,524.8 657.7,521.3" fill="#cacaca" shape-rendering="crispEdges"/>
<polygon points="658.4,509.2 662.7,507.8 667.0,515.6 663.4,517.7" fill="#808080" shape-rendering="crispEdges"/>
<polygon points="671.2,529.1 674.8,527.7 679.0,535.5 675.5,537.6" fill="#808080" shape-rendering="crispEdges"/>
<polygon points="660.6,500.7 664.1,500.0 664.8,502.8 662.0,503.5" fill="#808080" shape-rendering="crispEdges"/>
<polygon points="677.6,510.6 681.8,507.8 688.9,517.7 684.0,520.6" fill="#cacaca" shape-rendering="crispEdges"/>
<polygon points="664.8,543.3 670.5,541.8 675.2,553.2 669.1,555.0" fill="#00007f" shape-rendering="crispEdges"/>
<polygon points="688.2,559.6 693.9,557.9 697.4,568.8 691.8,570.9" fill="#00007f" shape-rendering="crispEdges"/>
<polygon points="693.9,557.4 699.6,556.0 703.1,567.4 697.4,569.5" fill="#7f0000" shape-rendering="crispEdges"/>
<polygon points="723.0,562.4 729.4,561.0 733.3,575.2 727.2,576.9" fill="#7f0000" shape-rendering="crispEdges"/>
<polygon points="735.0,543.3 740.0,541.8 744.3,556.7 739.3,558.4" fill="#cacaca" shape-rendering="crispEdges"/>
<polygon points="740.0,541.8 746.4,540.0 750.9,555.3 744.7,557.0" fill="#00007f" shape-rendering="crispEdges"/>
<polygon points="746.4,540.0 751.8,538.3 756.3,553.6 750.9,555.3" fill="#cacaca" shape-rendering="crispEdges"/>
<polygon points="742.8,572.3 748.5,570.9 752.8,585.8 747.1,587.2" fill="#cacaca" shape-rendering="crispEdges"/>
<polygon points="751.3,585.8 757.0,584.8 760.3,600.0 754.2,601.0" fill="#cacaca" shape-rendering="crispEdges"/>
<polygon points="703.1,594.3 708.8,592.9 710.9,605.0 705.0,606.1" fill="#00007f" shape-rendering="crispEdges"/>
<polygon points="724.0,590.8 730.1,589.4 732.2,602.8 726.5,604.3" fill="#7f0000" shape-rendering="crispEdges"/>
<polygon points="734.8,588.7 741.4,587.9 743.3,601.4 737.2,602.4" fill="#00007f" shape-rendering="crispEdges"/>
<polygon points="905.0,457.0 911.2,455.3 920.1,477.8 914.4,480.0" fill="#7f0000" shape-rendering="crispEdges"/>
<polygon points="915.3,452.1 921.7,449.9 929.7,474.6 924.0,476.2" fill="#cacaca" shape-rendering="crispEdges"/>
<polygon points="914.4,480.0 931.3,474.9 940.0,500.2 923.3,505.0" fill="#cacaca" shape-rendering="crispEdges"/>
<g fill="none" stroke="#5e5e5e" stroke-width="0.9">
<polyline points="471.0,614.0 420.6,552.0 280.6,368.8 256.9,336.6 202.8,265.6 152.1,204.8 129.5,177.1 148.7,162.5 175.8,147.3 209.6,130.4 243.4,115.2 270.0,102.8 296.2,93.1 337.3,81.9 370.9,76.2 400.8,71.8 434.4,68.8 464.3,67.3 494.2,68.4 531.6,71.8 569.0,77.4 606.3,84.1 643.7,93.4 666.1,99.8 690.0,109.1 735.3,129.5 778.8,153.2 818.3,178.9 857.8,208.5 897.3,244.1 932.8,283.6 972.3,346.8 992.2,380.0 1009.9,415.3 1029.1,463.3 1043.5,508.2 1051.5,546.7 1054.7,570.7 945.8,581.9 840.0,592.2 700.0,606.0 562.0,619.5 493.3,627.6"/>
<polyline points="479.2,615.5 494.0,588.8 499.3,580.0 510.2,546.4 530.9,500.0 567.3,410.0 604.0,310.0 611.3,290.0 665.0,101.4"/>
<polyline points="492.5,620.7 506.2,580.0 519.1,553.3 543.2,500.0 582.2,410.0 633.0,310.0 640.0,297.0 670.0,239.5 734.0,130.8"/>
<polyline points="471.0,614.0 479.2,615.8 486.6,615.5 491.0,618.4 492.8,622.9 493.3,627.6"/>
</g>
<text x="451" y="646.7" font-size="13.4px">cvw</text><text x="491.4" y="646.7" font-size="13.4px">cve</text>
</g>
<g clip-path="url(#cm)">
<text x="1013.8" y="19.6" font-size="17.5px">Velocity (m/s)</text>
<defs><linearGradient id="gp" x1="0" y1="0" x2="0" y2="1"><stop offset="0" stop-color="#d2f0ff"/><stop offset="0.2" stop-color="#58bcff"/><stop offset="0.21" stop-color="#34acff"/><stop offset="0.3" stop-color="#14a2ff"/><stop offset="0.4" stop-color="#0a8cf2"/><stop offset="0.6" stop-color="#0860cc"/><stop offset="0.8" stop-color="#0630a4"/><stop offset="0.9" stop-color="#000c86"/><stop offset="1" stop-color="#00007f"/></linearGradient><linearGradient id="gn" x1="0" y1="0" x2="0" y2="1"><stop offset="0" stop-color="#7a0000"/><stop offset="0.2" stop-color="#a40000"/><stop offset="0.4" stop-color="#d03000"/><stop offset="0.6" stop-color="#f86400"/><stop offset="0.7" stop-color="#ff8404"/><stop offset="0.8" stop-color="#ffa63c"/><stop offset="1" stop-color="#ffeedc"/></linearGradient></defs>
<g shape-rendering="crispEdges">
<rect x="1057" y="44" width="18" height="272" fill="#000"/>
<rect x="1058" y="45" width="16" height="132" fill="url(#gp)"/>
<rect x="1058" y="183" width="16" height="132" fill="url(#gn)"/>
<rect x="1058" y="177" width="16" height="3" fill="#e2e2de"/>
<rect x="1058" y="181" width="16" height="2" fill="#e2e8e8"/>
<rect x="1057" y="71" width="18" height="1" fill="#000"/>
<rect x="1057" y="98" width="18" height="1" fill="#000"/>
<rect x="1057" y="125" width="18" height="1" fill="#000"/>
<rect x="1057" y="152" width="18" height="1" fill="#000"/>
<rect x="1057" y="180" width="18" height="1" fill="#000"/>
<rect x="1057" y="207" width="18" height="1" fill="#000"/>
<rect x="1057" y="234" width="18" height="1" fill="#000"/>
<rect x="1057" y="261" width="18" height="1" fill="#000"/>
<rect x="1057" y="288" width="18" height="1" fill="#000"/>
</g>
<text x="1049.6" y="44.6" font-size="14px" text-anchor="end">500</text>
<text x="1049.6" y="71.6" font-size="14px" text-anchor="end">400</text>
<text x="1049.6" y="98.6" font-size="14px" text-anchor="end">300</text>
<text x="1049.6" y="125.6" font-size="14px" text-anchor="end">200</text>
<text x="1049.6" y="152.6" font-size="14px" text-anchor="end">100</text>
<text x="1049.6" y="179.6" font-size="14px" text-anchor="end">0</text>
<text x="1049.6" y="206.6" font-size="14px" text-anchor="end">-100</text>
<text x="1049.6" y="233.6" font-size="14px" text-anchor="end">-200</text>
<text x="1049.6" y="260.6" font-size="14px" text-anchor="end">-300</text>
<text x="1049.6" y="287.6" font-size="14px" text-anchor="end">-400</text>
<text x="1049.6" y="314.6" font-size="14px" text-anchor="end">-500</text>
<text x="1083.2" y="56.6" font-size="13.6px">toward</text>
<text x="1083.6" y="177.4" font-size="14px">10</text>
<text x="1083.6" y="193.9" font-size="14px">-10</text>
<text x="1083.6" y="314.8" font-size="13.6px">away</text>
</g><text x="110.4" y="564.8" font-size="18.6px" textLength="89.6" lengthAdjust="spacingAndGlyphs">Frequency</text>
<text x="114.2" y="583.2" font-size="17px" textLength="31" lengthAdjust="spacingAndGlyphs">cvw</text>
<text x="168.2" y="583.2" font-size="17px" textLength="27.2" lengthAdjust="spacingAndGlyphs">cve</text>
<g shape-rendering="crispEdges" fill="#000">
<rect x="117" y="643" width="24" height="4" fill="#ff3c00"/>
<rect x="170" y="715" width="23" height="4" fill="#ff3c00"/>
<rect x="120" y="589" width="1" height="171"/>
<rect x="137" y="589" width="1" height="171"/>
<rect x="120" y="589" width="18" height="1"/>
<rect x="120" y="606" width="18" height="1"/>
<rect x="120" y="623" width="18" height="1"/>
<rect x="120" y="640" width="18" height="1"/>
<rect x="120" y="657" width="18" height="1"/>
<rect x="120" y="674" width="18" height="1"/>
<rect x="120" y="691" width="18" height="1"/>
<rect x="120" y="708" width="18" height="1"/>
<rect x="120" y="725" width="18" height="1"/>
<rect x="120" y="742" width="18" height="1"/>
<rect x="120" y="759" width="18" height="1"/>
<rect x="172" y="589" width="1" height="171"/>
<rect x="189" y="589" width="1" height="171"/>
<rect x="172" y="589" width="18" height="1"/>
<rect x="172" y="606" width="18" height="1"/>
<rect x="172" y="623" width="18" height="1"/>
<rect x="172" y="640" width="18" height="1"/>
<rect x="172" y="657" width="18" height="1"/>
<rect x="172" y="674" width="18" height="1"/>
<rect x="172" y="691" width="18" height="1"/>
<rect x="172" y="708" width="18" height="1"/>
<rect x="172" y="725" width="18" height="1"/>
<rect x="172" y="742" width="18" height="1"/>
<rect x="172" y="759" width="18" height="1"/>
</g>
<text x="112.4" y="596.3" font-size="13.2px" text-anchor="end">18</text>
<text x="197.8" y="596.3" font-size="13.2px">18</text>
<text x="112.4" y="613.3" font-size="13.2px" text-anchor="end">17</text>
<text x="197.8" y="613.3" font-size="13.2px">17</text>
<text x="112.4" y="630.3" font-size="13.2px" text-anchor="end">16</text>
<text x="197.8" y="630.3" font-size="13.2px">16</text>
<text x="112.4" y="647.3" font-size="13.2px" text-anchor="end">15</text>
<text x="197.8" y="647.3" font-size="13.2px">15</text>
<text x="112.4" y="664.3" font-size="13.2px" text-anchor="end">14</text>
<text x="197.8" y="664.3" font-size="13.2px">14</text>
<text x="112.4" y="681.3" font-size="13.2px" text-anchor="end">13</text>
<text x="197.8" y="681.3" font-size="13.2px">13</text>
<text x="112.4" y="698.3" font-size="13.2px" text-anchor="end">12</text>
<text x="197.8" y="698.3" font-size="13.2px">12</text>
<text x="112.4" y="715.3" font-size="13.2px" text-anchor="end">11</text>
<text x="197.8" y="715.3" font-size="13.2px">11</text>
<text x="112.4" y="732.3" font-size="13.2px" text-anchor="end">10</text>
<text x="197.8" y="732.3" font-size="13.2px">10</text>
<text x="112.4" y="749.3" font-size="13.2px" text-anchor="end">9</text>
<text x="197.8" y="749.3" font-size="13.2px">9</text>
<text x="112.4" y="766.3" font-size="13.2px" text-anchor="end">8</text>
<text x="197.8" y="766.3" font-size="13.2px">8</text><text x="5.7" y="15.3" font-size="18px" textLength="167" lengthAdjust="spacingAndGlyphs">September, 30 2021</text><text x="5.7" y="31.6" font-size="18px" textLength="97.6" lengthAdjust="spacingAndGlyphs">0255:00 UT</text>
</svg></body></html>
